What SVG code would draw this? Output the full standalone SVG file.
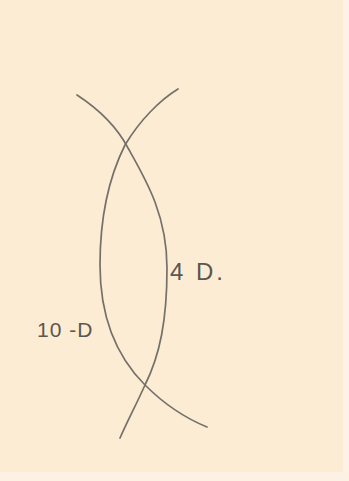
<svg xmlns="http://www.w3.org/2000/svg" width="349" height="481" viewBox="0 0 349 481">
<style>
.stroke{fill:none;stroke:#75716a;stroke-width:1.7;stroke-linecap:round}
.lbl{font-family:"Liberation Sans",Arial,sans-serif;fill:#5a5650}
</style>
<rect x="0" y="0" width="349" height="481" fill="#fbecd3"/>
<rect x="343" y="0" width="6" height="481" fill="#fcf3e6"/>
<rect x="0" y="472" width="349" height="9" fill="#fcf1e2"/>
<g id="curves">
<path class="stroke" d="M77,95 C100,110 117,127 128,148 C146,180 167,215 167,268 C167,320 160,355 145,385 C136,405 128,420 120,438"/>
<path class="stroke" d="M178,89 C160,100 140,120 125,145 C110,175 100,215 100,265 C100,315 115,355 145,385 C165,405 185,418 207,427"/>
</g>
<g id="label-10"><text class="lbl" x="37" y="337" font-size="21" letter-spacing="1">10 -D</text></g>
<g id="label-4"><text class="lbl" x="170" y="280" font-size="24" letter-spacing="3">4 D.</text></g>
</svg>
